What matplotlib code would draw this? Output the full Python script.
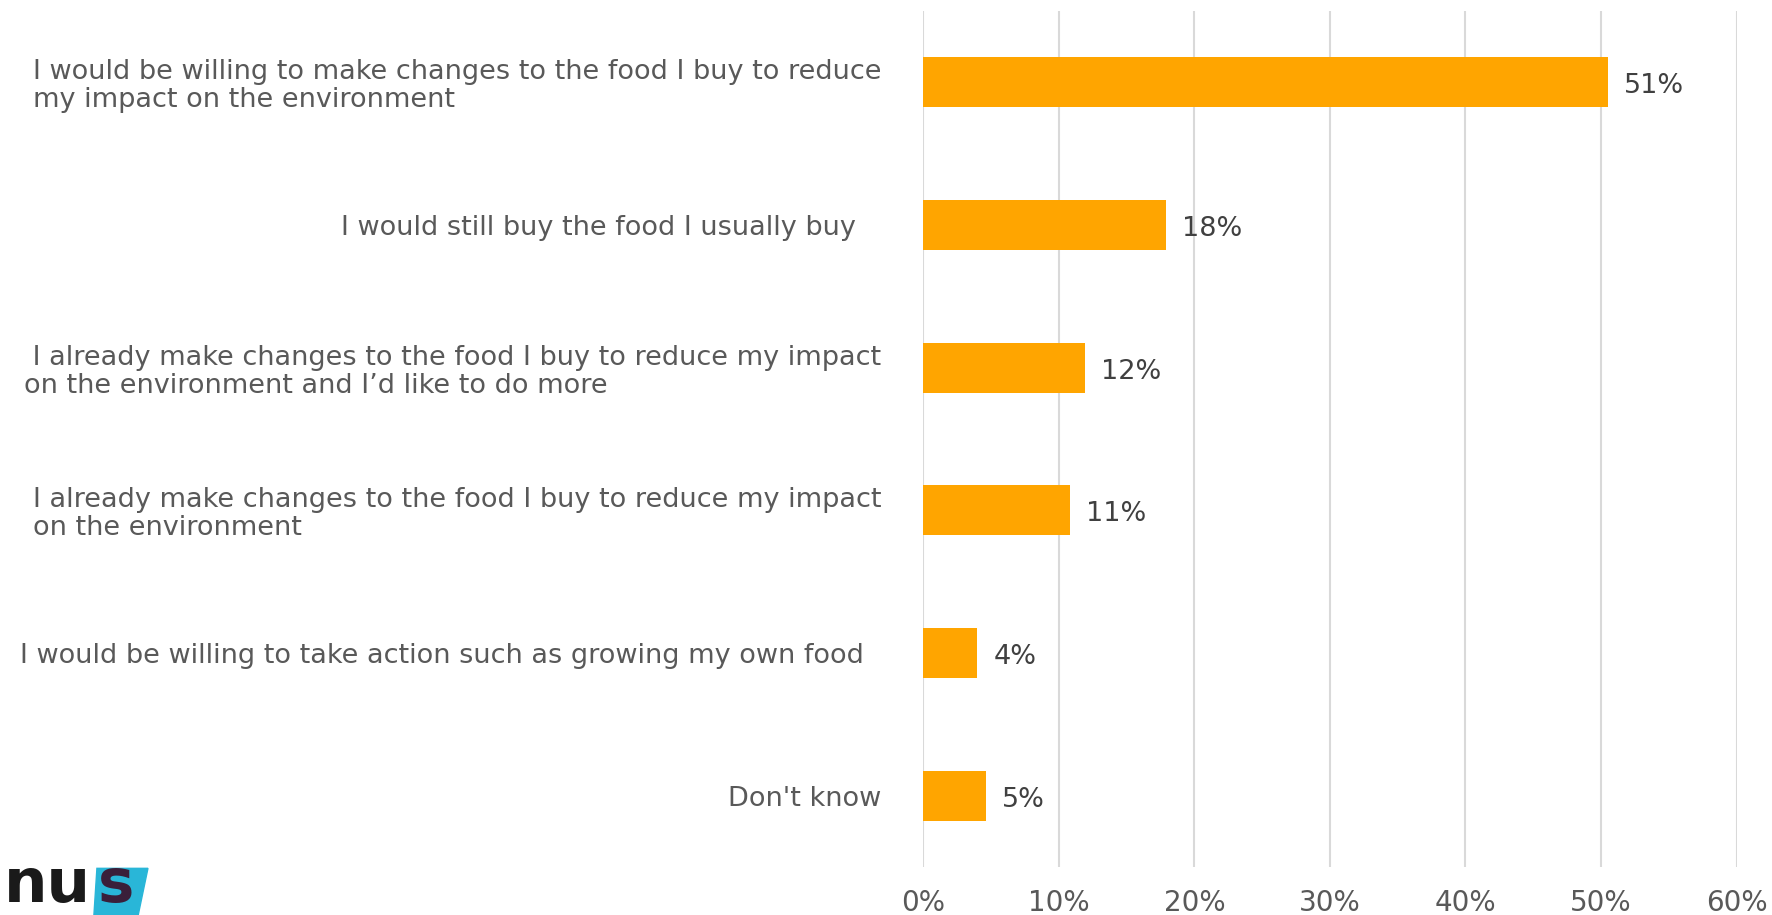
import matplotlib.pyplot as plt
from matplotlib.patches import Polygon

categories = [
    "I would be willing to make changes to the food I buy to reduce\nmy impact on the environment",
    "I would still buy the food I usually buy   ",
    " I already make changes to the food I buy to reduce my impact\non the environment and I\u2019d like to do more",
    "I already make changes to the food I buy to reduce my impact\non the environment",
    "I would be willing to take action such as growing my own food  ",
    "Don't know",
]
values = [50.5, 17.9, 11.9, 10.8, 4.0, 4.6]
value_labels = ["51%", "18%", "12%", "11%", "4%", "5%"]
ticks = [0, 10, 20, 30, 40, 50, 60]
tick_labels = ["0%", "10%", "20%", "30%", "40%", "50%", "60%"]

plt.rcParams['font.family'] = ['DejaVu Sans']

fig = plt.figure(figsize=(17.72, 9.15), dpi=100)
ax = fig.add_axes([0.521, 0.0525, 0.459, 0.9355])

y = list(range(len(categories)))
ax.barh(y, values, height=0.35, color='#FFA500', zorder=3)

# data labels
for yi, v, lab in zip(y, values, value_labels):
    ax.annotate(lab, (v, yi), xytext=(16, -4), textcoords='offset pixels',
                va='center', ha='left', fontsize=19.5, color='#404040')

ax.set_xlim(0, 60)
ax.set_ylim(len(categories) - 0.5, -0.5)
ax.set_xticks(ticks)
ax.set_xticklabels(tick_labels, fontsize=20, color='#595959')
ax.set_yticks(y)
ax.set_yticklabels(categories, fontsize=19.5, color='#595959',
                   multialignment='left', linespacing=1.1)
ax.tick_params(axis='x', length=0, pad=16)
ax.tick_params(axis='y', length=0, pad=30)
ax.grid(axis='x', color='#D9D9D9', linewidth=1.5, zorder=0)
for s in ax.spines.values():
    s.set_visible(False)

# logo
fig.patches.append(Polygon([[0.053, 0.0], [0.078, 0.0], [0.0835, 0.051], [0.0547, 0.051]],
                           closed=True, transform=fig.transFigure, color='#29B6D8', zorder=1))
fig.text(0.002, 0.0, "nu", fontsize=44, fontweight='bold', color='#1A1A1A', va='bottom')
fig.text(0.055, 0.0, "s", fontsize=44, fontweight='bold', color='#3A1F3A', va='bottom')

fig.savefig('out.png', dpi=100)
